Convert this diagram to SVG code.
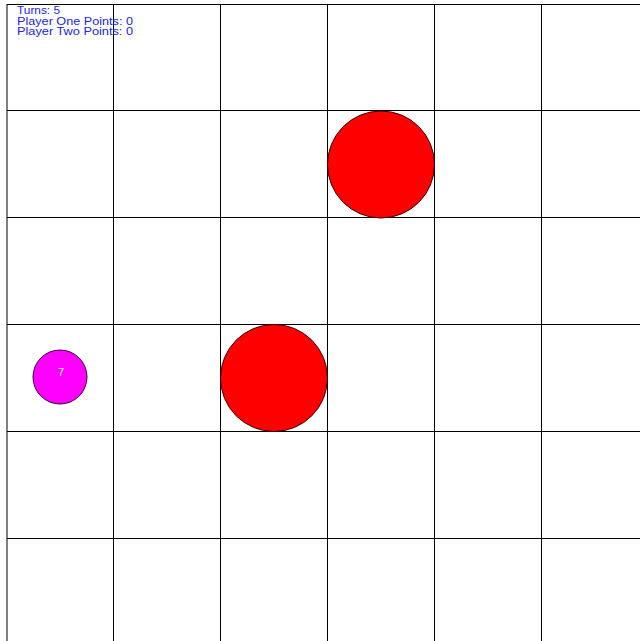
<svg xmlns="http://www.w3.org/2000/svg" width="640" height="641" viewBox="0 0 640 641">
<style>
.cell{fill:none;stroke:#000;stroke-width:1}
.big{fill:#ff0000;stroke:#3a0000;stroke-width:1}
.small{fill:#ff00ff;stroke:#3a003a;stroke-width:1}
.hud{font-family:"Liberation Sans",Arial,sans-serif;font-size:10.5px;fill:#2424e0}
.lbl{font-family:"Liberation Sans",Arial,sans-serif;font-size:11px;fill:#ffffff;text-anchor:middle}
</style>
<rect width="640" height="641" fill="#ffffff"/>
<g id="grid">
<path class="cell" d="M7,4V641M113.5,4V641M220.5,4V641M327.5,4V641M434.5,4V641M541.5,4V641M7,4.5H640M7,110.5H640M7,217.5H640M7,324.5H640M7,431.5H640M7,538.5H640"/>
</g>
<g id="piece-red-1"><circle class="big" cx="381" cy="164.5" r="53.5"/></g>
<g id="piece-red-2"><circle class="big" cx="274" cy="378" r="53.5"/></g>
<g id="piece-magenta"><circle class="small" cx="60" cy="377" r="27"/><text class="lbl" x="61" y="376">7</text></g>
<g id="hud">
<text class="hud" x="17" y="14" textLength="43" lengthAdjust="spacingAndGlyphs">Turns: 5</text>
<text class="hud" x="17" y="24.5" textLength="116" lengthAdjust="spacingAndGlyphs">Player One Points: 0</text>
<text class="hud" x="17" y="35" textLength="116" lengthAdjust="spacingAndGlyphs">Player Two Points: 0</text>
</g>
</svg>
